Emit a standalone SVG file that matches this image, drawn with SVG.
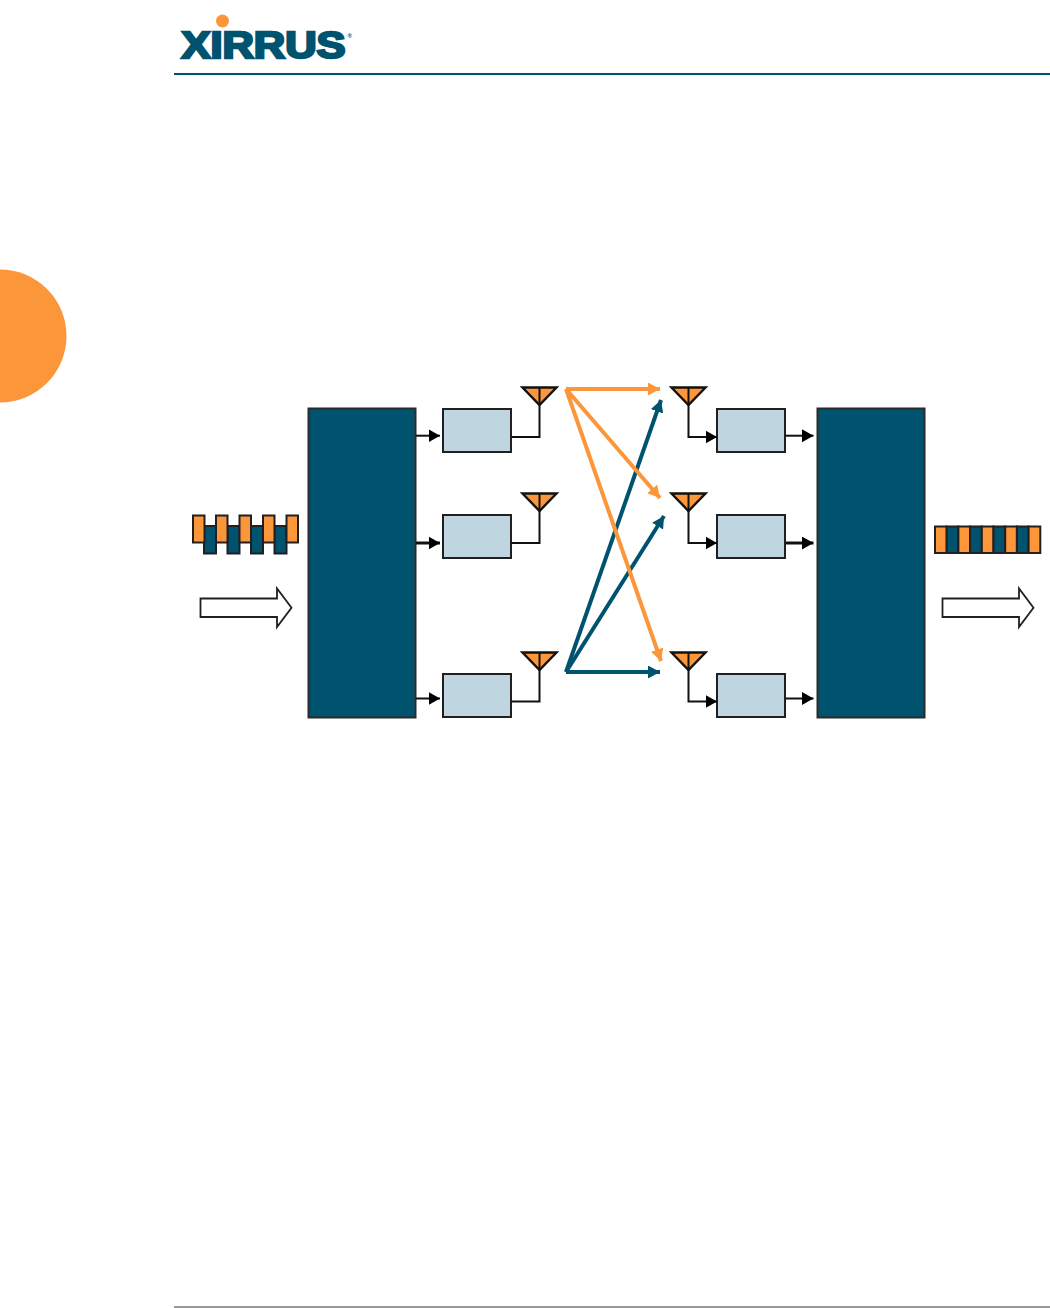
<svg xmlns="http://www.w3.org/2000/svg" width="1050" height="1308" viewBox="0 0 1050 1308">
<style>
.block{fill:#00536F;stroke:#2a2a2a;stroke-width:2}
.box{fill:#BFD6E0;stroke:#231F20;stroke-width:2}
.ant{fill:#FB963A;stroke:#111;stroke-width:2.400;stroke-linejoin:miter}
.o{fill:#FB963A;stroke:#231F20;stroke-width:2}
.b{fill:#00536F;stroke:#231F20;stroke-width:2}
.hollow{fill:#fff;stroke:#231F20;stroke-width:1.800}
.wire{fill:none;stroke:#111;stroke-width:2}
.wide{fill:none;stroke:#111;stroke-width:3}
.go{fill:none;stroke:#FB963A;stroke-width:4}
.gb{fill:none;stroke:#00536F;stroke-width:4}
.logo{font-family:"Liberation Sans",Arial,sans-serif;font-weight:700;fill:#00536F}
</style>
<defs>
<marker id="hk" markerUnits="userSpaceOnUse" markerWidth="12" markerHeight="14" refX="11.5" refY="6.5" orient="auto"><path d="M0 0L11.5 6.5L0 13Z" fill="#000"/></marker>
<marker id="ho" markerUnits="userSpaceOnUse" markerWidth="13" markerHeight="14" refX="12" refY="6.5" orient="auto"><path d="M0 0L12 6.5L0 13Z" fill="#FB963A"/></marker>
<marker id="hb" markerUnits="userSpaceOnUse" markerWidth="13" markerHeight="14" refX="12" refY="6.5" orient="auto"><path d="M0 0L12 6.5L0 13Z" fill="#00536F"/></marker>
</defs>
<g id="page">
<circle cx="0" cy="336" r="66.5" fill="#FB963A"/>
<rect x="174" y="73" width="876" height="2" fill="#00536F"/>
<rect x="174" y="1306.500" width="876" height="1" fill="#333"/>
</g>
<g id="logo">
<circle cx="222.500" cy="21" r="6.500" fill="#FB963A"/>
<text class="logo" x="181.500" y="57.500" font-size="36" stroke="#00536F" stroke-width="2.400" textLength="164" lengthAdjust="spacingAndGlyphs">XIRRUS</text>
<text class="logo" x="347.500" y="38" font-size="6">®</text>
</g>
<g id="source-stream">
<rect class="b" x="204" y="526" width="12" height="27.500"/>
<rect class="b" x="227.500" y="526" width="12" height="27.500"/>
<rect class="b" x="251" y="526" width="12" height="27.500"/>
<rect class="b" x="274.500" y="526" width="12" height="27.500"/>
<rect class="o" x="193" y="515.500" width="11.500" height="27"/>
<rect class="o" x="216" y="515.500" width="11.500" height="27"/>
<rect class="o" x="239.500" y="515.500" width="11.500" height="27"/>
<rect class="o" x="263" y="515.500" width="11.500" height="27"/>
<rect class="o" x="286.500" y="515.500" width="11.500" height="27"/>
</g>
<g id="input-arrow"><path class="hollow" d="M200.500 598.500H277V588.500L291.500 607.800L277 627V617H200.500Z"/></g>
<g id="left-block"><rect class="block" x="308.500" y="408.500" width="107" height="309"/></g>
<g id="right-block"><rect class="block" x="817.500" y="408.500" width="107" height="309"/></g>
<g id="tx-1"><rect class="box" x="443" y="409" width="68" height="43"/></g>
<g id="tx-2"><rect class="box" x="443" y="515" width="68" height="43"/></g>
<g id="tx-3"><rect class="box" x="443" y="674" width="68" height="43"/></g>
<g id="rx-1"><rect class="box" x="717" y="409" width="68" height="43"/></g>
<g id="rx-2"><rect class="box" x="717" y="515" width="68" height="43"/></g>
<g id="rx-3"><rect class="box" x="717" y="674" width="68" height="43"/></g>
<g id="connectors">
<path class="wire" d="M416 435.700H440" marker-end="url(#hk)"/>
<path class="wide" d="M416 543H440" marker-end="url(#hk)"/>
<path class="wire" d="M416 698.500H440" marker-end="url(#hk)"/>
<path class="wire" d="M786 435.700H813.500" marker-end="url(#hk)"/>
<path class="wide" d="M786 543H813.500" marker-end="url(#hk)"/>
<path class="wire" d="M786 698.500H813.500" marker-end="url(#hk)"/>
<path class="wire" d="M511 437H539.500V400"/>
<path class="wire" d="M511 543H539.500V506"/>
<path class="wire" d="M511 701.500H539.500V665"/>
<path class="wire" d="M688.500 400V437H717" marker-end="url(#hk)"/>
<path class="wire" d="M688.500 506V543H717" marker-end="url(#hk)"/>
<path class="wire" d="M688.500 665V701.500H717" marker-end="url(#hk)"/>
<path class="gb" d="M566 672L661 400" marker-end="url(#hb)"/>
<path class="gb" d="M566 672L664 516" marker-end="url(#hb)"/>
<path class="gb" d="M566 672H660" marker-end="url(#hb)"/>
<path class="go" d="M566 389H660" marker-end="url(#ho)"/>
<path class="go" d="M566 389L660 498" marker-end="url(#ho)"/>
<path class="go" d="M566 389L661 661" marker-end="url(#ho)"/>
</g>
<g id="tx-ant-1"><path class="ant" d="M522.500 387.500H556.500L539.500 405Z"/><path class="wire" d="M539.500 387.500V405"/></g>
<g id="tx-ant-2"><path class="ant" d="M522.500 493.500H556.500L539.500 511Z"/><path class="wire" d="M539.500 493.500V511"/></g>
<g id="tx-ant-3"><path class="ant" d="M522.500 652.500H556.500L539.500 670Z"/><path class="wire" d="M539.500 652.500V670"/></g>
<g id="rx-ant-1"><path class="ant" d="M671.500 387.500H705.500L688.500 405Z"/><path class="wire" d="M688.500 387.500V405"/></g>
<g id="rx-ant-2"><path class="ant" d="M671.500 493.500H705.500L688.500 511Z"/><path class="wire" d="M688.500 493.500V511"/></g>
<g id="rx-ant-3"><path class="ant" d="M671.500 652.500H705.500L688.500 670Z"/><path class="wire" d="M688.500 652.500V670"/></g>
<g id="output-stream">
<rect class="o" x="935" y="526.500" width="11.700" height="26.500"/>
<rect class="b" x="946.700" y="526.500" width="11.700" height="26.500"/>
<rect class="o" x="958.400" y="526.500" width="11.700" height="26.500"/>
<rect class="b" x="970.100" y="526.500" width="11.700" height="26.500"/>
<rect class="o" x="981.800" y="526.500" width="11.700" height="26.500"/>
<rect class="b" x="993.500" y="526.500" width="11.700" height="26.500"/>
<rect class="o" x="1005.200" y="526.500" width="11.700" height="26.500"/>
<rect class="b" x="1016.900" y="526.500" width="11.700" height="26.500"/>
<rect class="o" x="1028.600" y="526.500" width="11.700" height="26.500"/>
</g>
<g id="output-arrow"><path class="hollow" d="M942.500 598.500H1019V588.500L1033.500 607.800L1019 627V617H942.500Z"/></g>
</svg>
